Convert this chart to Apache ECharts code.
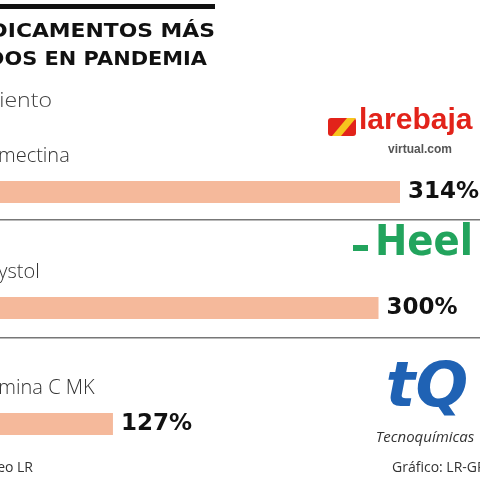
<!DOCTYPE html>
<html>
<head>
<meta charset="utf-8">
<script src="https://cdn.jsdelivr.net/npm/echarts@6/dist/echarts.min.js"></script>
<style>
  html, body { margin: 0; padding: 0; background: #fff; }
  #chart { width: 480px; height: 480px; }
</style>
</head>
<body>
<div id="chart"></div>
<script>
// datos del gráfico
const productos = ['Ivermectina', 'Engystol', 'Vitamina C MK']
const crecimiento = [314, 300, 127]
const tituloLineas = ['LOS MEDICAMENTOS MÁS', 'VENDIDOS EN PANDEMIA']
const subtitulo = 'Crecimiento'
const fuente = 'Fuente: Sondeo LR'
const credito = 'Gráfico: LR-GR'

const font = '"Open Sans", "DejaVu Sans", sans-serif'
const fontBold = '"DejaVu Sans", sans-serif'
const chart = echarts.init(document.getElementById('chart'))

const option = {
  animation: false,
  backgroundColor: '#fff',
  grid: { left: -82, top: 134, width: 482, height: 348, outerBoundsMode: 'none' },
  xAxis: {
    type: 'value',
    min: 0,
    max: 314,
    show: false,
  },
  yAxis: {
    type: 'category',
    data: productos,
    inverse: true,
    axisLine: { show: false },
    axisTick: { show: false },
    z: 10,
    axisLabel: {
      inside: true,
      margin: 47,
      align: 'left',
      verticalAlign: 'middle',
      lineHeight: 24,
      // nombre encima de la barra
      formatter: (v) => v + '\n\n\n',
      fontFamily: font,
      fontWeight: 300,
      fontSize: 20,
      color: '#333',
    },
  },
  series: [
    {
      type: 'bar',
      data: crecimiento,
      barWidth: 22,
      itemStyle: { color: '#F5B99B' },
      label: {
        show: true,
        position: 'right',
        distance: 8,
        formatter: '{c}%',
        fontFamily: fontBold,
        fontWeight: 'bold',
        fontSize: 23,
        color: '#111',
      },
    },
  ],
  graphic: [
    // barra negra superior
    { type: 'rect', shape: { x: 0, y: 4, width: 215, height: 5 }, style: { fill: '#111' } },
    {
      type: 'text', x: 215, y: 32, scaleX: 1.15,
      style: { text: tituloLineas[0], textAlign: 'right', textVerticalAlign: 'middle', font: 'bold 19px ' + fontBold, fill: '#111' },
    },
    {
      type: 'text', x: 207, y: 60, scaleX: 1.1,
      style: { text: tituloLineas[1], textAlign: 'right', textVerticalAlign: 'middle', font: 'bold 19px ' + fontBold, fill: '#111' },
    },
    {
      type: 'text', x: 52, y: 101, scaleX: 1.1,
      style: { text: subtitulo, textAlign: 'right', textVerticalAlign: 'middle', font: '300 21px ' + font, fill: '#444' },
    },
    // separadores
    { type: 'rect', shape: { x: 0, y: 219, width: 480, height: 1.5 }, style: { fill: '#777' } },
    { type: 'rect', shape: { x: 0, y: 337, width: 480, height: 1.5 }, style: { fill: '#777' } },
    // pie
    {
      type: 'text', x: 33, y: 468,
      style: { text: fuente, textAlign: 'right', textVerticalAlign: 'middle', font: '14px ' + font, fill: '#333' },
    },
    {
      type: 'text', x: 392, y: 468,
      style: { text: credito, textAlign: 'left', textVerticalAlign: 'middle', font: '14px ' + font, fill: '#333' },
    },
    // logo larebaja
    { type: 'rect', shape: { x: 328, y: 118, width: 28, height: 18, r: 3 }, style: { fill: '#E2231A' } },
    { type: 'polygon', shape: { points: [[347, 118], [356, 118], [341, 136], [332, 136]] }, style: { fill: '#F7C51E' } },
    {
      type: 'text', x: 359, y: 136,
      style: { text: 'larebaja', textAlign: 'left', textVerticalAlign: 'bottom', font: 'bold 30px "Liberation Sans", sans-serif', fill: '#E2231A' },
    },
    {
      type: 'text', x: 388, y: 150,
      style: { text: 'virtual.com', textAlign: 'left', textVerticalAlign: 'middle', font: 'bold 12px "Liberation Sans", sans-serif', fill: '#555' },
    },
    // logo Heel
    { type: 'rect', shape: { x: 353, y: 245, width: 15, height: 6 }, style: { fill: '#22A45D' } },
    {
      type: 'text', x: 473, y: 265, scaleX: 0.92,
      style: { text: 'Heel', textAlign: 'right', textVerticalAlign: 'bottom', font: 'bold 42px "DejaVu Sans", sans-serif', fill: '#22A45D' },
    },
    // logo Tecnoquímicas
    {
      type: 'text', x: 427, y: 390,
      style: {
        text: 'tQ', textAlign: 'center', textVerticalAlign: 'middle',
        font: 'italic bold 62px "DejaVu Sans", sans-serif',
        fill: '#1F62B4',
      },
    },
    {
      type: 'text', x: 425, y: 438,
      style: { text: 'Tecnoquímicas', textAlign: 'center', textVerticalAlign: 'middle', font: 'italic 15px ' + font, fill: '#333' },
    },
  ],
}
chart.setOption(option)
</script>
</body>
</html>
